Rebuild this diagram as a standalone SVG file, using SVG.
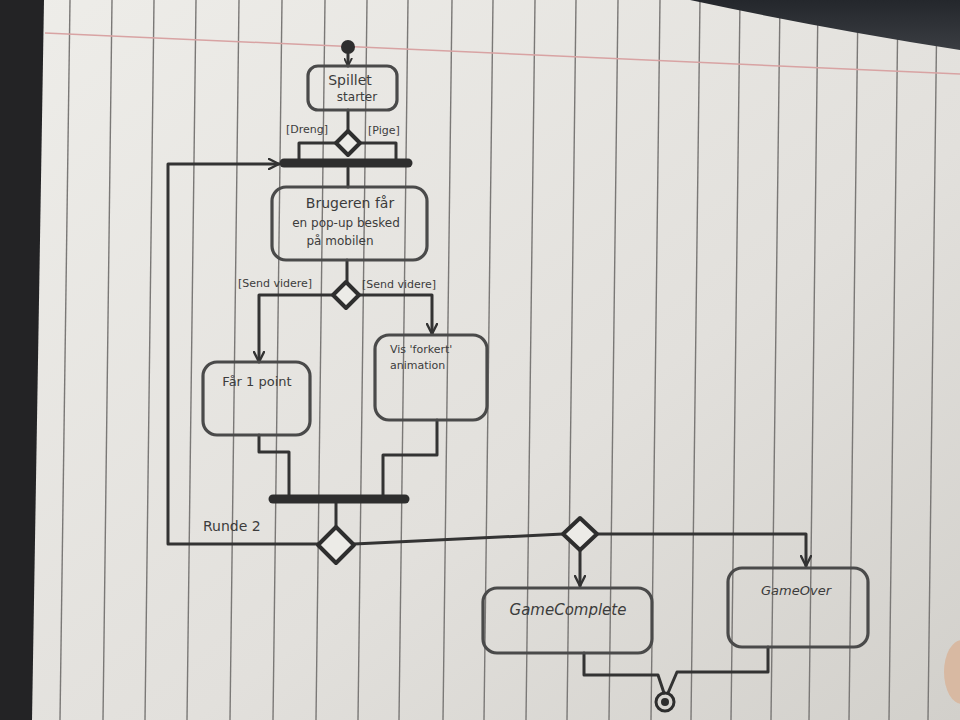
<svg xmlns="http://www.w3.org/2000/svg" width="960" height="720" viewBox="0 0 960 720">
<defs>
<linearGradient id="paper" x1="0" y1="0" x2="1" y2="1">
<stop offset="0" stop-color="#eeede9"/>
<stop offset="0.6" stop-color="#e2e0dc"/>
<stop offset="1" stop-color="#d2d0cb"/>
</linearGradient>
<linearGradient id="shadow" x1="0" y1="0" x2="0" y2="1">
<stop offset="0" stop-color="#24272c"/>
<stop offset="1" stop-color="#3a3d42"/>
</linearGradient>
<marker id="arr" viewBox="0 0 12 12" refX="11" refY="6" markerWidth="12" markerHeight="12" markerUnits="userSpaceOnUse" orient="auto">
<path d="M1,1 L11,6 L1,11" fill="none" stroke="#333" stroke-width="2.4" stroke-linecap="round" stroke-linejoin="round"/>
</marker>
<marker id="arrs" viewBox="0 0 12 12" refX="11" refY="6" markerWidth="9" markerHeight="9" markerUnits="userSpaceOnUse" orient="auto">
<path d="M1,1 L11,6 L1,11" fill="none" stroke="#333" stroke-width="2.4" stroke-linecap="round"/>
</marker>
</defs>
<style>
.ln{stroke:#7a7876;stroke-width:1.4;fill:none}
.c{fill:none;stroke:#333;stroke-width:3;stroke-linecap:round;stroke-linejoin:round}
.box{fill:none;stroke:#4a4a4a;stroke-width:3.2}
.bar{stroke:#2e2e2e;stroke-width:9;stroke-linecap:round}
.dia{fill:#ecebe7;stroke:#2e2e2e;stroke-width:4;stroke-linejoin:round}
.t{font-family:"DejaVu Sans","Liberation Sans",sans-serif;fill:#3c3c3c;text-anchor:middle}
.g{font-family:"DejaVu Sans","Liberation Sans",sans-serif;fill:#3c3c3c;font-size:11px}
.r{font-family:"DejaVu Sans","Liberation Sans",sans-serif;fill:#3c3c3c;font-size:14px}
</style>
<g id="background">
<rect width="960" height="720" fill="url(#paper)"/>
<g class="ln">
<line x1="70" y1="0" x2="60" y2="720"/>
<line x1="112" y1="0" x2="103" y2="720"/>
<line x1="154" y1="0" x2="145" y2="720"/>
<line x1="196" y1="0" x2="187" y2="720"/>
<line x1="239" y1="0" x2="230" y2="720"/>
<line x1="282" y1="0" x2="273" y2="720"/>
<line x1="325" y1="0" x2="316" y2="720"/>
<line x1="367" y1="0" x2="358" y2="720"/>
<line x1="408" y1="0" x2="399" y2="720"/>
<line x1="452" y1="0" x2="443" y2="720"/>
<line x1="493" y1="0" x2="484" y2="720"/>
<line x1="535" y1="0" x2="526" y2="720"/>
<line x1="576" y1="0" x2="567" y2="720"/>
<line x1="618" y1="0" x2="609" y2="720"/>
<line x1="660" y1="0" x2="651" y2="720"/>
<line x1="700" y1="0" x2="691" y2="720"/>
<line x1="740" y1="0" x2="731" y2="720"/>
<line x1="780" y1="0" x2="771" y2="720"/>
<line x1="818" y1="0" x2="809" y2="720"/>
<line x1="858" y1="0" x2="849" y2="720"/>
<line x1="898" y1="0" x2="889" y2="720"/>
<line x1="937" y1="0" x2="928" y2="720"/>
</g>
<line x1="45" y1="33" x2="960" y2="74" stroke="#d8a3a3" stroke-width="1.5"/>
<path d="M0,0 H44 L32,720 H0 Z" fill="#232325"/>
<path d="M690,0 Q820,28 960,50 V0 Z" fill="url(#shadow)"/>
<ellipse cx="962" cy="672" rx="18" ry="32" fill="#d8b9a2"/>
</g>
<g id="connectors">
<path class="c" d="M348,54 V66" marker-end="url(#arrs)"/>
<path class="c" d="M348,110 V130"/>
<path class="c" d="M336,143 H299 V159"/>
<path class="c" d="M360,143 H396 V159"/>
<path class="c" d="M318,544 H168 V164 H279" marker-end="url(#arr)"/>
<path class="c" d="M348,168 V187"/>
<path class="c" d="M347,260 V282"/>
<path class="c" d="M333,295 H259 V362" marker-end="url(#arr)"/>
<path class="c" d="M359,295 H432 V334" marker-end="url(#arr)"/>
<path class="c" d="M259,435 V452 H289 V495"/>
<path class="c" d="M437,420 V455 H383 V495"/>
<path class="c" d="M336,503 V526"/>
<path class="c" d="M354,544 L563,534"/>
<path class="c" d="M580,551 V586" marker-end="url(#arr)"/>
<path class="c" d="M597,534 H806 V566" marker-end="url(#arr)"/>
<path class="c" d="M584,653 V675 H658 L664,693"/>
<path class="c" d="M768,647 V672 H677 L668,693"/>
</g>
<g id="start"><circle cx="348" cy="47" r="7" fill="#2e2e2e"/></g>
<g id="spillet-starter">
<rect class="box" x="308" y="66" width="89" height="44" rx="10"/>
<text class="t" x="350" y="85" font-size="14">Spillet</text>
<text class="t" x="357" y="101" font-size="12">starter</text>
</g>
<g id="decision1">
<polygon class="dia" points="348,131 360,143 348,155 336,143"/>
<text class="g" x="286" y="133">[Dreng]</text>
<text class="g" x="368" y="134">[Pige]</text>
</g>
<g id="fork1"><line class="bar" x1="284" y1="163" x2="408" y2="163"/></g>
<g id="brugeren">
<rect class="box" x="272" y="187" width="155" height="73" rx="14"/>
<text class="t" x="350" y="208" font-size="14">Brugeren får</text>
<text class="t" x="346" y="227" font-size="12">en pop-up besked</text>
<text class="t" x="340" y="245" font-size="12">på mobilen</text>
</g>
<g id="decision2">
<polygon class="dia" points="346,282 359,295 346,308 333,295"/>
<text class="g" x="238" y="287">[Send videre]</text>
<text class="g" x="362" y="288">[Send videre]</text>
</g>
<g id="faar-point">
<rect class="box" x="203" y="362" width="107" height="73" rx="14"/>
<text class="t" x="257" y="386" font-size="13">Får 1 point</text>
</g>
<g id="vis-forkert">
<rect class="box" x="375" y="335" width="112" height="85" rx="14"/>
<text class="g" x="390" y="353">Vis 'forkert'</text>
<text class="g" x="390" y="369">animation</text>
</g>
<g id="join"><line class="bar" x1="273" y1="499" x2="405" y2="499"/></g>
<g id="decision3">
<polygon class="dia" points="336,527 354,545 336,563 318,545"/>
<text class="r" x="203" y="531">Runde 2</text>
</g>
<g id="decision4"><polygon class="dia" points="580,518 597,534 580,550 563,534"/></g>
<g id="game-complete">
<rect class="box" x="483" y="588" width="169" height="65" rx="14"/>
<text class="t" x="568" y="615" font-size="15" font-style="italic">GameComplete</text>
</g>
<g id="game-over">
<rect class="box" x="728" y="568" width="140" height="79" rx="14"/>
<text class="t" x="796" y="595" font-size="13" font-style="italic">GameOver</text>
</g>
<g id="end">
<circle cx="665" cy="702" r="9" fill="none" stroke="#2e2e2e" stroke-width="3"/>
<circle cx="665" cy="702" r="4" fill="#2e2e2e"/>
</g>
</svg>
